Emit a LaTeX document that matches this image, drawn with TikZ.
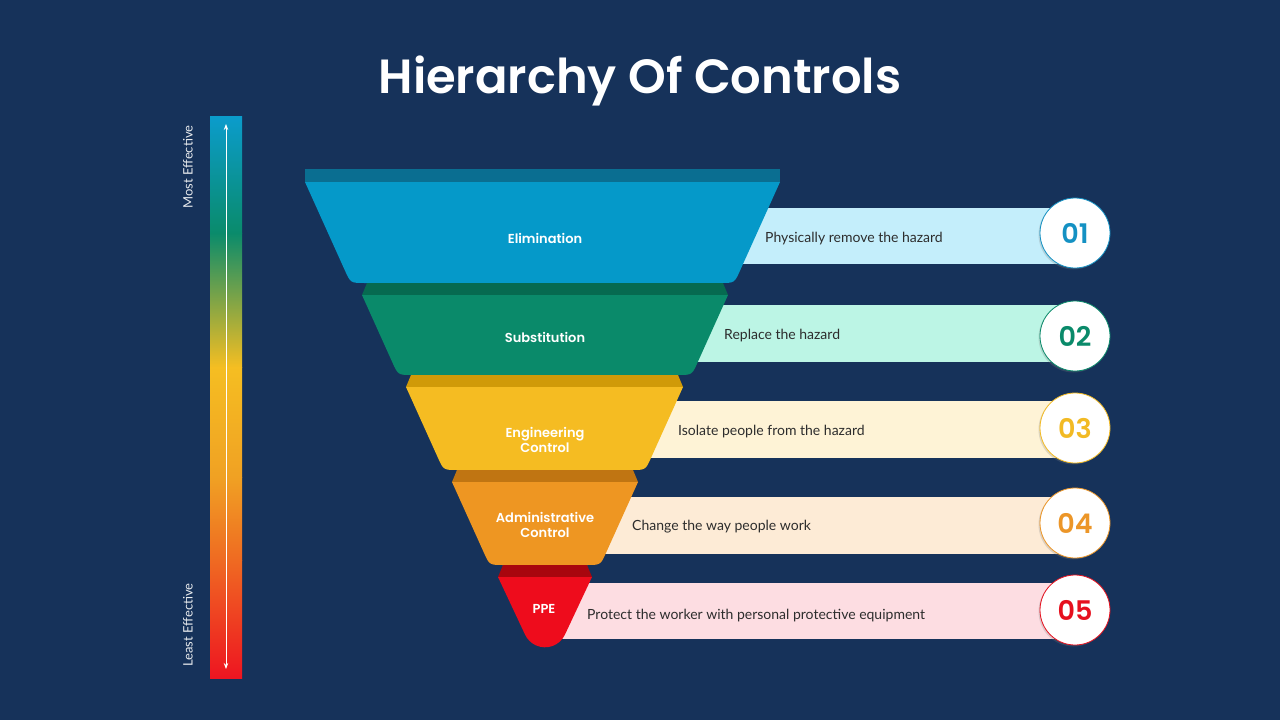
\documentclass[tikz,border=0pt]{standalone}
\usepackage{fontspec}
\setmainfont{Lato}
\newfontfamily\pop{Poppins}[UprightFont={Poppins SemiBold},BoldFont={Poppins SemiBold}]
\usetikzlibrary{arrows.meta,shadows}
\definecolor{bg}{RGB}{22,50,90}
\definecolor{gblue}{RGB}{11,156,204}
\definecolor{ggreen}{RGB}{10,139,107}
\definecolor{gyellow}{RGB}{245,190,34}
\definecolor{gorange}{RGB}{240,161,35}
\definecolor{gored}{RGB}{239,106,34}
\definecolor{gred}{RGB}{238,21,33}
\definecolor{l1}{RGB}{5,153,201}\definecolor{b1}{RGB}{10,110,145}
\definecolor{l2}{RGB}{10,138,106}\definecolor{b2}{RGB}{6,106,80}
\definecolor{l3}{RGB}{245,188,34}\definecolor{b3}{RGB}{208,154,8}
\definecolor{l4}{RGB}{238,150,34}\definecolor{b4}{RGB}{192,117,18}
\definecolor{l5}{RGB}{238,12,28}\definecolor{b5}{RGB}{168,6,14}
\definecolor{r1}{RGB}{196,238,251}
\definecolor{r2}{RGB}{188,245,229}
\definecolor{r3}{RGB}{254,243,214}
\definecolor{r4}{RGB}{253,235,214}
\definecolor{r5}{RGB}{253,221,226}
\definecolor{desctext}{RGB}{45,45,45}
\definecolor{n1}{RGB}{20,145,195}
\definecolor{n2}{RGB}{10,138,106}
\definecolor{n3}{RGB}{242,186,36}
\definecolor{n4}{RGB}{236,150,40}
\definecolor{n5}{RGB}{230,16,30}
\begin{document}
\begin{tikzpicture}[x=1pt,y=-1pt,
  desc/.style={anchor=west, inner sep=0pt, font=\fontsize{14}{16}\selectfont, text=desctext},
  lab/.style={font=\pop\fontsize{13}{15.5}\selectfont, text=white, align=center},
  numc/.style={circle, fill=white, minimum size=70pt, inner sep=0pt, line width=0.8pt,
    font=\pop\fontsize{27}{30}\selectfont,
    drop shadow={opacity=0.25, shadow xshift=-1.5pt, shadow yshift=-1.5pt}},
  side/.style={rotate=90, font=\fontsize{13}{15}\selectfont, text=white!90!bg},
  dblarrow/.style={{Stealth[length=6pt,width=4.5pt]}-{Stealth[length=6pt,width=4.5pt]}}]
\useasboundingbox (0,0) rectangle (1280,720);
\fill[bg] (0,0) rectangle (1280,720);

% title
\node[font=\pop\fontsize{48}{54}\selectfont, text=white] (title) at (640,81) {Hierarchy Of Controls};

% gradient bar
\shade[top color=gblue, bottom color=ggreen] (210,116) rectangle (242,233.5);
\shade[top color=ggreen, bottom color=gyellow] (210,233) rectangle (242,367.5);
\shade[top color=gyellow, bottom color=gorange] (210,367) rectangle (242,477.5);
\shade[top color=gorange, bottom color=gored] (210,477) rectangle (242,560.5);
\shade[top color=gored, bottom color=gred] (210,560) rectangle (242,678);
\coordinate (atop) at (226,124);
\coordinate (abot) at (226,669);
\draw[white, line width=0.8pt, dblarrow] (atop) -- (abot);
\node[side] (most) at (188,167) {Most Effective};
\node[side] (least) at (188,625) {Least Effective};

% ribbons
\fill[r1] (700,208) rectangle (1075,264);
\fill[r2] (650,305) rectangle (1075,362);
\fill[r3] (600,401) rectangle (1075,458);
\fill[r4] (560,497) rectangle (1075,554);
\fill[r5] (540,583) rectangle (1075,639);

% funnel layers
\fill[b1] (305,169) rectangle (780,182);
\fill[l1] (305,182) -- (780,182) -- (740.2,270.2) .. controls (734.5,283) .. (720.5,283)
  -- (364.5,283) .. controls (350.5,283) .. (344.8,270.2) -- cycle;
\fill[b2] (367,283) -- (723,283) -- (728,295) -- (362,295) -- cycle;
\fill[l2] (362,295) -- (728,295) -- (697.7,362.2) .. controls (692,375) .. (678,375)
  -- (412,375) .. controls (398,375) .. (392.3,362.2) -- cycle;
\fill[b3] (411,375) -- (678,375) -- (683,387) -- (406,387) -- cycle;
\fill[l3] (406,387) -- (683,387) -- (651.3,457.2) .. controls (645.6,470) .. (631.6,470)
  -- (457.4,470) .. controls (443.4,470) .. (437.7,457.2) -- cycle;
\fill[b4] (457,470) -- (633,470) -- (638,482) -- (452,482) -- cycle;
\fill[l4] (452,482) -- (638,482) -- (606.3,552.2) .. controls (600.6,565) .. (586.6,565)
  -- (503.4,565) .. controls (489.4,565) .. (483.7,552.2) -- cycle;
\fill[b5] (503,565) -- (587,565) -- (592,577) -- (498,577) -- cycle;
\fill[l5] (498,577) -- (592,577) -- (564.94,634.6) arc[start angle=25, end angle=155, radius=22] -- cycle;

% funnel labels
\node[lab] (t1) at (545,238) {Elimination};
\node[lab] (t2) at (545,337) {Substitution};
\node[lab] (t3) at (545,440) {Engineering\\Control};
\node[lab] (t4) at (545,525) {Administrative\\Control};
\node[lab] (t5) at (544,609) {PPE};

% descriptions
\node[desc] (d1) at (765,238.5) {Physically remove the hazard};
\node[desc] (d2) at (724,335.5) {Replace the hazard};
\node[desc] (d3) at (678,431.5) {Isolate people from the hazard};
\node[desc] (d4) at (632,526.5) {Change the way people work};
\node[desc] (d5) at (587,615.5) {Protect the worker with personal protective equipment};

% number circles
\node[numc, draw=n1, text=n1] (c1) at (1075,233) {01};
\node[numc, draw=n2, text=n2] (c2) at (1075,336) {02};
\node[numc, draw=n3, text=n3] (c3) at (1075,428) {03};
\node[numc, draw=n4, text=n4] (c4) at (1075,523) {04};
\node[numc, draw=n5, text=n5] (c5) at (1075,610) {05};
\end{tikzpicture}
\end{document}
